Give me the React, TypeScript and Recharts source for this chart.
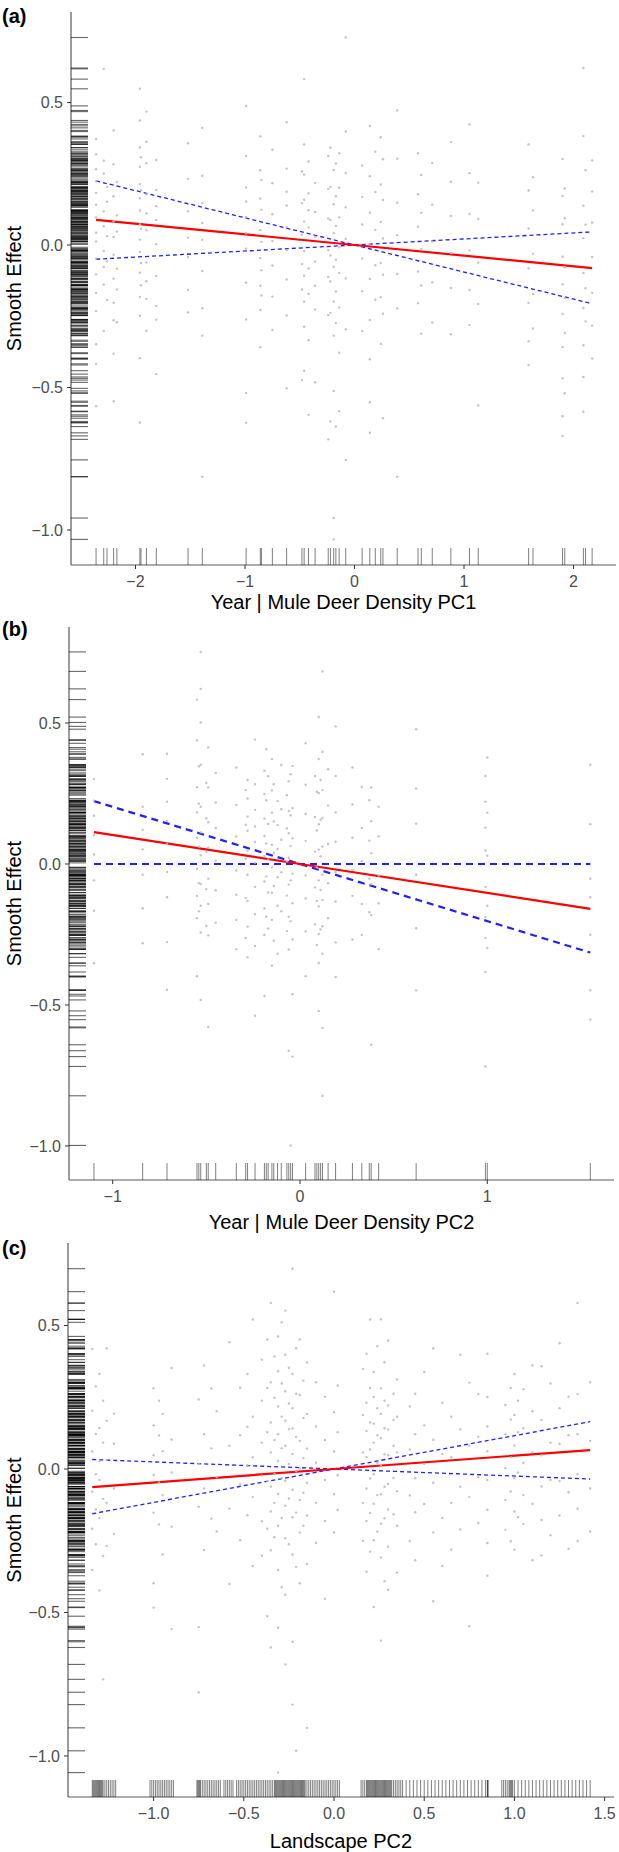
import React from "react";
import { ComposedChart, XAxis, YAxis, Scatter, Line } from "recharts";

const FONT = "'Liberation Sans', Arial, Helvetica, sans-serif";

// ---- panel (a): Year | Mule Deer Density PC1 ----
const xTicksA = [-2, -1, 0, 1, 2];
const fitXA = [-2.36, 0, 2.17];
const fitA = [0.088, 0, -0.081];
const ciOneA = [0.225, 0, -0.206];
const ciTwoA = [-0.05, 0, 0.046];
const xRugA = [
  -2.36, -2.29, -2.26, -2.2, -2.17, -1.96, -1.95, -1.9, -1.81, -1.52, -1.39, -0.99, -0.86, -0.85, -0.75,
  -0.62, -0.48, -0.46, -0.42, -0.36, -0.24, -0.22, -0.19, -0.17, -0.14, -0.08, 0.07, 0.14, 0.19, 0.24, 0.26,
  0.39, 0.58, 0.61, 0.71, 0.88, 1.05, 1.13, 1.59, 1.63, 1.9, 1.92, 2.09, 2.11, 2.17,
];
const residA: [number, number[]][] = [
  [-2.36, [0.372, 0.318, 0.266, 0.224, 0.183, 0.141, 0.097, 0.043, 0.012, -0.048, -0.103, -0.168, -0.232, -0.348, -0.417, -0.566]],
  [-2.29, [0.618, 0.296, 0.251, 0.118, 0.066, -0.021, -0.077, -0.139, -0.302]],
  [-2.26, [0.204, 0.152, 0.031, -0.057, -0.193]],
  [-2.2, [0.402, 0.283, 0.171, 0.083, 0.028, -0.034, -0.118, -0.203, -0.264, -0.381, -0.548]],
  [-2.17, [0.221, 0.104, 0.047, -0.083, -0.156, -0.271]],
  [-1.96, [0.548, 0.437, 0.342, 0.274, 0.213, 0.164, 0.121, 0.073, 0.019, -0.024, -0.097, -0.182, -0.248, -0.397, -0.623]],
  [-1.95, [0.308, 0.192, 0.057, -0.063, -0.141]],
  [-1.9, [0.468, 0.362, 0.287, 0.178, 0.111, 0.052, -0.061, -0.127, -0.189, -0.301]],
  [-1.81, [0.298, 0.193, 0.136, 0.088, 0.003, -0.109, -0.214, -0.262, -0.453]],
  [-1.52, [0.357, 0.232, 0.118, 0.026, -0.042, -0.158, -0.237]],
  [-1.39, [0.411, 0.243, 0.147, 0.077, 0.018, -0.091, -0.222, -0.318, -0.813]],
  [-0.99, [0.488, 0.312, 0.202, 0.153, 0.098, 0.041, -0.013, -0.132, -0.261, -0.519, -0.624]],
  [-0.86, [0.381, 0.262, 0.163, 0.052, -0.046, -0.143, -0.228, -0.359]],
  [-0.85, [0.228, 0.124, 0.011, -0.089, -0.177]],
  [-0.75, [0.334, 0.217, 0.108, 0.014, -0.072, -0.181, -0.298]],
  [-0.62, [0.431, 0.268, 0.187, 0.139, 0.063, -0.018, -0.121, -0.247, -0.503]],
  [-0.48, [0.258, 0.147, 0.036, -0.067, -0.156, -0.474]],
  [-0.46, [0.582, 0.353, 0.247, 0.159, 0.082, -0.021, -0.108, -0.199, -0.287, -0.441]],
  [-0.42, [0.293, 0.181, 0.122, 0.061, -0.082, -0.171, -0.334, -0.596]],
  [-0.36, [0.218, 0.116, 0.029, -0.058, -0.143, -0.226, -0.482]],
  [-0.24, [0.312, 0.197, 0.093, -0.018, -0.112, -0.246, -0.682]],
  [-0.22, [0.341, 0.204, 0.088, -0.037, -0.128, -0.238, -0.619]],
  [-0.19, [0.263, 0.143, 0.042, -0.076, -0.198, -0.318, -0.512, -0.958, -1.033]],
  [-0.17, [0.286, 0.171, 0.067, -0.052, -0.163, -0.274, -0.637]],
  [-0.14, [0.322, 0.201, 0.097, -0.008, -0.098, -0.219, -0.378, -0.583]],
  [-0.08, [0.728, 0.398, 0.253, 0.132, 0.021, -0.117, -0.296, -0.754]],
  [0.07, [0.279, 0.168, 0.072, -0.047, -0.162, -0.302]],
  [0.14, [0.418, 0.241, 0.113, 0.004, -0.119, -0.263, -0.401, -0.552, -0.659]],
  [0.19, [0.327, 0.186, 0.053, -0.071, -0.192]],
  [0.24, [0.378, 0.212, 0.081, -0.063, -0.183, -0.347]],
  [0.26, [0.301, 0.158, 0.023, -0.104, -0.241, -0.608]],
  [0.39, [0.472, 0.303, 0.148, 0.034, -0.102, -0.223, -0.813]],
  [0.58, [0.322, 0.178, 0.064, -0.093, -0.204]],
  [0.61, [0.246, 0.113, -0.014, -0.142, -0.311]],
  [0.71, [0.288, 0.141, 0.012, -0.131, -0.272]],
  [0.88, [0.361, 0.222, 0.102, -0.028, -0.151, -0.313]],
  [1.05, [0.423, 0.252, 0.109, -0.019, -0.158, -0.281]],
  [1.13, [0.219, 0.091, -0.062, -0.207, -0.563]],
  [1.59, [0.353, 0.191, 0.058, -0.082, -0.203, -0.338, -0.421]],
  [1.63, [0.238, 0.121, -0.031, -0.172, -0.293]],
  [1.9, [0.302, 0.172, 0.073, -0.041, -0.138, -0.242, -0.358, -0.468, -0.601, -0.67]],
  [1.92, [0.198, 0.094, -0.078, -0.186, -0.309, -0.52]],
  [2.09, [0.621, 0.382, 0.138, 0.024, -0.098, -0.221, -0.352, -0.463, -0.585]],
  [2.11, [0.262, 0.071, -0.152, -0.268]],
  [2.17, [0.297, 0.188, 0.079, -0.042, -0.168, -0.283, -0.398]],
];

// ---- panel (b): Year | Mule Deer Density PC2 ----
const xTicksB = [-1, 0, 1];
const fitXB = [-1.1, 0, 1.55];
const fitB = [0.113, 0, -0.159];
const ciOneB = [0.223, 0, -0.314];
const ciTwoB = [0, 0, 0];
const xRugB = [
  -1.1, -0.84, -0.71, -0.55, -0.54, -0.53, -0.5, -0.49, -0.45, -0.34, -0.29, -0.28, -0.24, -0.19, -0.18,
  -0.17, -0.15, -0.14, -0.12, -0.1, -0.07, -0.06, -0.05, -0.04, 0.03, 0.08, 0.09, 0.1, 0.11, 0.12, 0.15,
  0.19, 0.28, 0.33, 0.37, 0.38, 0.42, 0.62, 0.99, 1.0, 1.55,
];
const residB: [number, number[]][] = [
  [-1.1, [0.301, 0.224, 0.171, 0.102, 0.034, -0.058, -0.166, -0.352]],
  [-0.84, [0.389, 0.203, 0.121, 0.052, -0.038, -0.157, -0.281]],
  [-0.71, [0.391, 0.302, 0.221, 0.153, 0.072, -0.028, -0.118, -0.277, -0.446]],
  [-0.55, [0.583, 0.438, 0.272, 0.183, 0.093, -0.017, -0.113, -0.192, -0.398]],
  [-0.54, [0.346, 0.214, 0.061, -0.068, -0.168]],
  [-0.53, [0.752, 0.621, 0.502, 0.352, 0.203, 0.112, 0.031, -0.071, -0.148, -0.243, -0.482]],
  [-0.5, [0.287, 0.162, 0.043, -0.089, -0.219]],
  [-0.49, [0.413, 0.271, 0.148, 0.058, -0.052, -0.142, -0.253, -0.578]],
  [-0.45, [0.323, 0.218, 0.128, 0.012, -0.093, -0.208]],
  [-0.34, [0.342, 0.209, 0.098, -0.023, -0.109, -0.198, -0.302]],
  [-0.29, [0.262, 0.139, 0.019, -0.121, -0.262]],
  [-0.28, [0.298, 0.232, 0.168, 0.118, 0.048, -0.038, -0.131, -0.222, -0.331]],
  [-0.24, [0.441, 0.283, 0.192, 0.133, 0.078, 0.004, -0.081, -0.178, -0.291, -0.538]],
  [-0.19, [0.331, 0.248, 0.161, 0.099, 0.028, -0.062, -0.158, -0.252, -0.468]],
  [-0.18, [0.407, 0.226, 0.073, -0.044, -0.187]],
  [-0.17, [0.311, 0.142, 0.016, -0.101, -0.229]],
  [-0.15, [0.372, 0.261, 0.182, 0.068, -0.012, -0.102, -0.198, -0.361]],
  [-0.14, [0.283, 0.151, 0.039, -0.078, -0.272]],
  [-0.12, [0.223, 0.138, 0.053, -0.047, -0.148, -0.318]],
  [-0.1, [0.351, 0.194, 0.086, -0.029, -0.168]],
  [-0.07, [0.244, 0.126, 0.009, -0.112, -0.238]],
  [-0.06, [0.293, 0.188, 0.109, 0.022, -0.073, -0.187, -0.303, -0.662]],
  [-0.05, [0.318, 0.173, 0.064, -0.058, -0.203, -0.998]],
  [-0.04, [0.348, 0.198, 0.091, -0.034, -0.139, -0.268, -0.462, -0.683]],
  [0.03, [0.428, 0.281, 0.178, 0.082, -0.041, -0.122, -0.239, -0.398]],
  [0.08, [0.312, 0.167, 0.044, -0.083, -0.214]],
  [0.09, [0.256, 0.119, -0.012, -0.131, -0.287]],
  [0.1, [0.521, 0.372, 0.252, 0.141, 0.051, -0.058, -0.151, -0.248, -0.351, -0.521]],
  [0.11, [0.298, 0.157, 0.027, -0.092, -0.232]],
  [0.12, [0.683, 0.398, 0.262, 0.163, 0.062, -0.038, -0.128, -0.221, -0.318, -0.581, -0.822]],
  [0.15, [0.336, 0.207, 0.071, -0.068, -0.192]],
  [0.19, [0.488, 0.312, 0.183, 0.079, -0.028, -0.133, -0.278, -0.401]],
  [0.28, [0.342, 0.211, 0.093, -0.021, -0.113, -0.268]],
  [0.33, [0.273, 0.128, 0.011, -0.142, -0.252]],
  [0.37, [0.226, 0.083, -0.052, -0.171]],
  [0.38, [0.271, 0.152, 0.038, -0.072, -0.181, -0.641]],
  [0.42, [0.203, 0.098, -0.041, -0.139, -0.302]],
  [0.62, [0.478, 0.268, 0.143, -0.038, -0.228, -0.448]],
  [0.99, [0.312, 0.221, 0.129, 0.048, -0.081, -0.188, -0.262, -0.383, -0.718]],
  [1.0, [0.378, 0.182, 0.029, -0.148, -0.298]],
  [1.55, [0.352, 0.141, -0.052, -0.118, -0.251, -0.448, -0.552]],
];

// ---- panel (c): Landscape PC2 ----
const xTicksC = [-1, -0.5, 0, 0.5, 1, 1.5];
const fitXC = [-1.34, 0, 1.42];
const fitC = [-0.063, 0, 0.066];
const ciOneC = [-0.156, 0, 0.165];
const ciTwoC = [0.033, 0, -0.035];
const xRugC = [
  -1.34, -1.335, -1.33, -1.325, -1.32, -1.315, -1.31, -1.305, -1.3, -1.295, -1.29, -1.285, -1.28, -1.27, -1.26,
  -1.25, -1.24, -1.23, -1.22, -1.21,
  -1.02, -1.01, -1.0, -0.99, -0.98, -0.97, -0.96, -0.95, -0.94, -0.93, -0.92, -0.91, -0.9, -0.89,
  -0.76, -0.755, -0.75, -0.745, -0.74, -0.73, -0.72, -0.71, -0.7, -0.69, -0.68, -0.67, -0.66, -0.65, -0.64, -0.63,
  -0.61, -0.6, -0.59, -0.58, -0.57, -0.56,
  -0.54, -0.53, -0.52, -0.51, -0.5, -0.49, -0.48, -0.47, -0.46, -0.45, -0.44, -0.43, -0.42, -0.41, -0.4,
  -0.39, -0.38, -0.37, -0.36, -0.35, -0.34,
  -0.33, -0.325, -0.32, -0.315, -0.31, -0.305, -0.3, -0.295, -0.29, -0.285, -0.28, -0.275, -0.27, -0.265, -0.26,
  -0.255, -0.25, -0.245, -0.24, -0.235, -0.23, -0.225, -0.22, -0.215, -0.21, -0.205, -0.2, -0.195, -0.19,
  -0.185, -0.18, -0.175, -0.17, -0.165, -0.16,
  -0.15, -0.14, -0.13, -0.12, -0.11, -0.1, -0.09, -0.08, -0.07, -0.06, -0.05, -0.04, -0.03, -0.02, -0.01,
  0.0, 0.01, 0.02, 0.03,
  0.15, 0.16, 0.17, 0.18, 0.185, 0.19, 0.195, 0.2, 0.205, 0.21, 0.215, 0.22, 0.225, 0.23, 0.235, 0.24, 0.245,
  0.25, 0.255, 0.26, 0.265, 0.27, 0.275, 0.28, 0.285, 0.29, 0.295, 0.3, 0.305, 0.31, 0.315, 0.32, 0.33, 0.34,
  0.35, 0.36, 0.37, 0.38,
  0.4, 0.42, 0.44, 0.46, 0.48, 0.5, 0.52, 0.54, 0.56, 0.58, 0.6, 0.62, 0.64, 0.66, 0.68, 0.7, 0.72, 0.74,
  0.76, 0.78, 0.8, 0.82, 0.84, 0.85, 0.852, 0.854,
  0.93, 0.94, 0.95, 0.96, 0.97, 0.975, 0.98, 0.985, 0.99, 1.0, 1.02, 1.04, 1.06, 1.08, 1.1, 1.12, 1.14, 1.16,
  1.18, 1.2, 1.22, 1.24, 1.26, 1.28, 1.3, 1.32, 1.34, 1.36, 1.38, 1.4, 1.42,
];
const residC: [number, number[]][] = [
  [-1.34, [0.418, 0.203, 0.061, -0.079, -0.208, -0.352]],
  [-1.32, [0.288, 0.122, -0.018, -0.141, -0.262]],
  [-1.3, [0.332, 0.143, 0.027, -0.038, -0.171, -0.423]],
  [-1.28, [0.238, 0.092, -0.104, -0.303, -0.733]],
  [-1.26, [0.421, 0.168, 0.031, -0.118, -0.268]],
  [-1.22, [0.193, 0.088, -0.068, -0.226]],
  [-1.0, [0.281, 0.152, 0.048, -0.021, -0.152, -0.398, -0.483]],
  [-0.97, [0.238, 0.117, -0.047, -0.193]],
  [-0.95, [0.192, 0.062, -0.091, -0.298]],
  [-0.9, [0.352, 0.103, -0.012, -0.201, -0.558]],
  [-0.75, [0.242, 0.018, -0.132, -0.551, -0.778]],
  [-0.72, [0.361, 0.121, -0.068, -0.282]],
  [-0.68, [0.281, 0.072, -0.173]],
  [-0.65, [0.201, -0.029, -0.218]],
  [-0.58, [0.442, 0.081, -0.138, -0.401]],
  [-0.52, [0.283, 0.118, -0.052, -0.248]],
  [-0.48, [0.331, 0.147, 0.013, -0.161]],
  [-0.45, [0.521, 0.182, 0.041, -0.098, -0.338]],
  [-0.4, [0.381, 0.238, 0.092, -0.023, -0.182, -0.302]],
  [-0.37, [0.451, 0.282, 0.128, -0.042, -0.208, -0.513]],
  [-0.35, [0.578, 0.302, 0.162, 0.058, -0.061, -0.148, -0.283, -0.622]],
  [-0.33, [0.392, 0.248, 0.101, -0.017, -0.118, -0.238]],
  [-0.31, [0.462, 0.341, 0.218, 0.121, 0.028, -0.087, -0.198, -0.352, -0.553, -1.058]],
  [-0.29, [0.511, 0.298, 0.182, 0.072, -0.032, -0.171, -0.412]],
  [-0.27, [0.552, 0.398, 0.271, 0.168, 0.081, -0.041, -0.128, -0.241, -0.438, -0.681]],
  [-0.25, [0.353, 0.228, 0.139, 0.018, -0.103, -0.262]],
  [-0.23, [0.698, 0.331, 0.212, 0.141, 0.052, -0.072, -0.168, -0.298, -0.602, -0.821]],
  [-0.21, [0.421, 0.262, 0.112, -0.008, -0.152, -0.341, -0.982]],
  [-0.19, [0.451, 0.258, 0.098, 0.002, -0.108, -0.221, -0.398]],
  [-0.17, [0.308, 0.178, 0.038, -0.083, -0.198]],
  [-0.15, [0.371, 0.192, 0.071, -0.048, -0.162, -0.331, -0.902]],
  [-0.1, [0.302, 0.148, 0.022, -0.118, -0.258]],
  [-0.05, [0.252, 0.101, -0.038, -0.181, -0.452]],
  [0.0, [0.618, 0.198, 0.061, -0.088, -0.221]],
  [0.02, [0.291, 0.128, -0.022, -0.142]],
  [0.16, [0.348, 0.188, 0.058, -0.118, -0.251]],
  [0.18, [0.402, 0.231, 0.132, 0.041, -0.068, -0.181, -0.358]],
  [0.2, [0.521, 0.282, 0.162, 0.068, -0.033, -0.153, -0.288]],
  [0.22, [0.338, 0.251, 0.158, 0.092, -0.018, -0.121, -0.248, -0.481]],
  [0.24, [0.428, 0.212, 0.118, 0.022, -0.091, -0.218]],
  [0.26, [0.522, 0.281, 0.192, 0.108, 0.012, -0.088, -0.191, -0.308, -0.598]],
  [0.28, [0.372, 0.238, 0.142, 0.051, -0.062, -0.172, -0.391]],
  [0.3, [0.448, 0.221, 0.138, 0.048, -0.052, -0.141, -0.271, -0.421]],
  [0.33, [0.262, 0.171, 0.081, -0.031, -0.158]],
  [0.35, [0.312, 0.182, 0.058, -0.078, -0.198, -0.361]],
  [0.42, [0.218, 0.068, -0.092, -0.251]],
  [0.45, [0.262, 0.121, -0.032, -0.151, -0.318]],
  [0.5, [0.338, 0.152, 0.018, -0.122]],
  [0.55, [0.421, 0.102, -0.048, -0.221, -0.461]],
  [0.6, [0.231, 0.052, -0.171, -0.338]],
  [0.65, [0.182, 0.041, -0.118, -0.281]],
  [0.7, [0.398, 0.138, -0.062, -0.211]],
  [0.75, [0.301, 0.081, -0.098, -0.548]],
  [0.8, [0.261, 0.112, -0.028, -0.188]],
  [0.85, [0.402, 0.251, 0.148, 0.062, -0.038, -0.142, -0.258, -0.372]],
  [0.95, [0.223, 0.121, 0.003, -0.108, -0.212]],
  [0.98, [0.282, 0.172, 0.041, -0.078, -0.252]],
  [1.0, [0.331, 0.188, 0.082, -0.031, -0.148, -0.281]],
  [1.02, [0.238, 0.128, -0.012, -0.168]],
  [1.05, [0.278, 0.142, 0.021, -0.091, -0.192]],
  [1.1, [0.361, 0.201, 0.058, -0.121, -0.318]],
  [1.15, [0.358, 0.171, 0.048, -0.061, -0.178, -0.301]],
  [1.2, [0.298, 0.092, -0.038, -0.231]],
  [1.25, [0.438, 0.212, 0.088, -0.042, -0.162]],
  [1.3, [0.252, 0.118, -0.081, -0.278]],
  [1.35, [0.578, 0.261, 0.121, -0.018, -0.138, -0.251]],
  [1.42, [0.302, 0.098, -0.068, -0.218]],
];

const yTicks = [-1, -0.5, 0, 0.5];
const minus = (s: string) => s.replace("-", "\u2212");

type PanelProps = {
  tag: string;
  tagTop: number;
  top: number;
  height: number;
  marginTop: number;
  marginRight: number;
  yAxisWidth: number;
  xAxisHeight: number;
  titleOffset: number;
  xLabel: string;
  xDomain: [number, number];
  yDomain: [number, number];
  xTicks: number[];
  xDigits: number;
  fitX: number[];
  fit: number[];
  ciOne: number[];
  ciTwo: number[];
  xRug: number[];
  resid: [number, number[]][];
  dash: string;
  dashWidth: number;
};

function Panel(p: PanelProps) {
  const points = p.resid.flatMap(([x, ys]) => ys.map((y) => ({ x, y })));
  const xRugPts = p.xRug.map((x) => ({ x, y: p.yDomain[0] }));
  const yRugPts = points.map((d) => ({ x: p.xDomain[0], y: d.y }));
  const lineData = p.fitX.map((x, i) => ({ x, fit: p.fit[i], one: p.ciOne[i], two: p.ciTwo[i] }));

  return (
    <div style={{ position: "absolute", left: 0, top: p.top, width: 619, height: p.height }}>
      <div
        style={{
          position: "absolute", left: 2, top: p.tagTop - 11, fontFamily: FONT, fontWeight: "bold",
          fontSize: 20, lineHeight: "22px", color: "#000",
        }}
      >
        {p.tag}
      </div>
      <ComposedChart
        width={619}
        height={p.height}
        margin={{ top: p.marginTop, right: p.marginRight, left: 0, bottom: 0 }}
        style={{ fontFamily: FONT }}
      >
        <XAxis
          type="number"
          dataKey="x"
          domain={p.xDomain}
          ticks={p.xTicks}
          allowDataOverflow
          height={p.xAxisHeight}
          tickFormatter={(v: number) => minus(v.toFixed(p.xDigits))}
          tick={{ fill: "#4d4d4d", fontSize: 16 }}
          tickSize={4}
          tickMargin={7}
          axisLine={{ stroke: "#5a5a5a", strokeWidth: 1.2 }}
          tickLine={{ stroke: "#333" }}
          label={{ value: p.xLabel, position: "insideBottom", offset: p.titleOffset, style: { fontSize: 20, fill: "#000" } }}
        />
        <YAxis
          type="number"
          dataKey="y"
          domain={p.yDomain}
          ticks={yTicks}
          allowDataOverflow
          width={p.yAxisWidth}
          tickFormatter={(v: number) => minus(v.toFixed(1))}
          tick={{ fill: "#4d4d4d", fontSize: 16 }}
          tickSize={4}
          tickMargin={4}
          axisLine={{ stroke: "#5a5a5a", strokeWidth: 1.2 }}
          tickLine={{ stroke: "#333" }}
          label={{
            value: "Smooth Effect", angle: -90, position: "insideLeft", offset: 14,
            style: { textAnchor: "middle", fontSize: 20, fill: "#000" },
          }}
        />
        <Scatter
          data={points}
          isAnimationActive={false}
          shape={(s: any) => <circle cx={s.cx} cy={s.cy} r={1.2} fill="#b8b8b8" fillOpacity={0.85} />}
        />
        <Scatter
          data={xRugPts}
          isAnimationActive={false}
          shape={(s: any) => (
            <line x1={s.cx} x2={s.cx} y1={s.cy} y2={s.cy - 17} stroke="#000" strokeOpacity={0.5} strokeWidth={1} />
          )}
        />
        <Scatter
          data={yRugPts}
          isAnimationActive={false}
          shape={(s: any) => (
            <line x1={s.cx} x2={s.cx + 17} y1={s.cy} y2={s.cy} stroke="#000" strokeOpacity={0.6} strokeWidth={1.1} />
          )}
        />
        <Line data={lineData} dataKey="one" type="linear" stroke="#1f1fff" strokeWidth={p.dashWidth}
          strokeDasharray={p.dash} dot={false} isAnimationActive={false} />
        <Line data={lineData} dataKey="two" type="linear" stroke="#1f1fff" strokeWidth={p.dashWidth}
          strokeDasharray={p.dash} dot={false} isAnimationActive={false} />
        <Line data={lineData} dataKey="fit" type="linear" stroke="#ff0000" strokeWidth={2.2}
          dot={false} isAnimationActive={false} />
      </ComposedChart>
    </div>
  );
}

export default function App() {
  return (
    <div style={{ position: "absolute", left: 0, top: 0, width: 619, height: 1852, background: "#fff" }}>
      <Panel
        tag="(a)" tagTop={16} top={0} height={615} marginTop={12} marginRight={3}
        yAxisWidth={71} xAxisHeight={50} titleOffset={6}
        xLabel="Year | Mule Deer Density PC1" xDomain={[-2.589, 2.388]} yDomain={[-1.1228, 0.8175]}
        xTicks={xTicksA} xDigits={0} fitX={fitXA} fit={fitA} ciOne={ciOneA} ciTwo={ciTwoA}
        xRug={xRugA} resid={residA} dash="4 3" dashWidth={1.3}
      />
      <Panel
        tag="(b)" tagTop={14} top={615} height={623} marginTop={12} marginRight={5}
        yAxisWidth={69} xAxisHeight={58} titleOffset={9}
        xLabel="Year | Mule Deer Density PC2" xDomain={[-1.2333, 1.6764]} yDomain={[-1.1206, 0.8404]}
        xTicks={xTicksB} xDigits={0} fitX={fitXB} fit={fitB} ciOne={ciOneB} ciTwo={ciTwoB}
        xRug={xRugB} resid={residB} dash="7 5" dashWidth={2.2}
      />
      <Panel
        tag="(c)" tagTop={18} top={1230} height={622} marginTop={13} marginRight={5}
        yAxisWidth={68} xAxisHeight={55} titleOffset={4}
        xLabel="Landscape PC2" xDomain={[-1.4745, 1.552]} yDomain={[-1.143, 0.7875]}
        xTicks={xTicksC} xDigits={1} fitX={fitXC} fit={fitC} ciOne={ciOneC} ciTwo={ciTwoC}
        xRug={xRugC} resid={residC} dash="4 3" dashWidth={1.3}
      />
    </div>
  );
}
